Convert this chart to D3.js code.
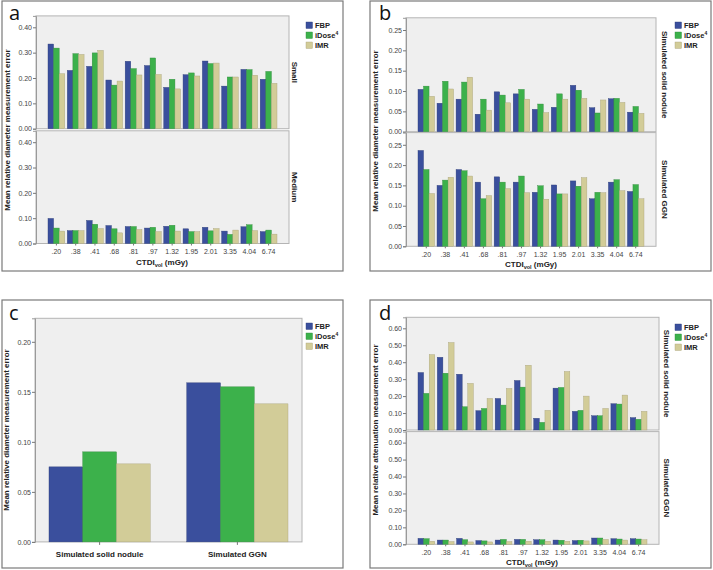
<!DOCTYPE html>
<html><head><meta charset="utf-8">
<script src="https://cdn.jsdelivr.net/npm/d3@7"></script>
<style>body{margin:0;background:#fff}svg{display:block}</style>
</head><body>
<script>
// ---------- data ----------
const categories = [".20",".38",".41",".68",".81",".97","1.32","1.95","2.01","3.35","4.04","6.74"];
const seriesNames = ["FBP","iDose","IMR"];
const seriesColors = ["#3a4f9d","#3cb14b","#d2cc98"];
const seriesStroke = ["#2c3c78","#2f8a3a","#a8a27a"];

const aSmallFBP   = [0.334,0.230,0.246,0.192,0.266,0.249,0.163,0.213,0.267,0.168,0.234,0.195];
const aSmallIDose = [0.318,0.296,0.299,0.172,0.237,0.279,0.195,0.220,0.257,0.204,0.233,0.226];
const aSmallIMR   = [0.217,0.293,0.309,0.188,0.212,0.214,0.157,0.208,0.259,0.204,0.211,0.179];
const aMedFBP     = [0.099,0.051,0.091,0.071,0.067,0.061,0.068,0.058,0.064,0.049,0.066,0.047];
const aMedIDose   = [0.061,0.051,0.076,0.058,0.067,0.064,0.072,0.047,0.050,0.036,0.074,0.053];
const aMedIMR     = [0.049,0.051,0.059,0.042,0.055,0.047,0.049,0.047,0.059,0.053,0.051,0.037];

const bSolidFBP   = [0.104,0.070,0.080,0.043,0.098,0.093,0.055,0.060,0.114,0.059,0.081,0.048];
const bSolidIDose = [0.112,0.124,0.122,0.080,0.090,0.104,0.068,0.093,0.102,0.046,0.082,0.062];
const bSolidIMR   = [0.087,0.105,0.134,0.053,0.071,0.080,0.047,0.080,0.082,0.078,0.072,0.045];
const bGgnFBP     = [0.236,0.150,0.189,0.158,0.171,0.158,0.133,0.151,0.161,0.117,0.158,0.135];
const bGgnIDose   = [0.189,0.163,0.186,0.117,0.158,0.173,0.149,0.129,0.148,0.133,0.164,0.152];
const bGgnIMR     = [0.130,0.170,0.173,0.125,0.142,0.132,0.116,0.129,0.169,0.132,0.137,0.117];

const cGroups = ["Simulated solid nodule","Simulated GGN"];
const cFBP   = [0.075,0.159];
const cIDose = [0.090,0.155];
const cIMR   = [0.078,0.138];

const dSolidFBP   = [0.339,0.429,0.329,0.114,0.186,0.292,0.069,0.247,0.110,0.084,0.155,0.073];
const dSolidIDose = [0.216,0.335,0.137,0.127,0.147,0.253,0.045,0.251,0.116,0.084,0.153,0.063];
const dSolidIMR   = [0.445,0.516,0.275,0.186,0.245,0.382,0.116,0.345,0.200,0.127,0.206,0.110];
const dGgnFBP     = [0.035,0.025,0.035,0.022,0.025,0.029,0.027,0.025,0.022,0.037,0.033,0.033];
const dGgnIDose   = [0.033,0.025,0.027,0.020,0.029,0.029,0.027,0.024,0.024,0.037,0.031,0.031];
const dGgnIMR     = [0.018,0.016,0.014,0.014,0.016,0.018,0.018,0.018,0.020,0.029,0.025,0.027];

const aTicks = [0,0.1,0.2,0.3,0.4];
const bTicks = [0,0.05,0.10,0.15,0.20,0.25];
const cTicks = [0,0.05,0.10,0.15,0.20];
const dTicks = [0,0.1,0.2,0.3,0.4,0.5,0.6];

// ---------- drawing ----------
const W = 713, H = 570;
const FONT = "'Liberation Sans', Arial, sans-serif";
const svg = d3.select("body").append("svg").attr("width", W).attr("height", H);

function box(x0, y0, x1, y1) {
  svg.append("rect").attr("x", x0).attr("y", y0).attr("width", x1 - x0).attr("height", y1 - y0)
    .attr("fill", "#fff").attr("stroke", "#7a7a7a").attr("stroke-width", 1.2);
}

function facet(o) {
  const g = svg.append("g");
  g.append("rect").attr("x", o.L).attr("y", o.top).attr("width", o.R - o.L).attr("height", o.zero - o.top)
    .attr("fill", "#efefef").attr("stroke", "#b4b4b4").attr("stroke-width", 1);
  const y = d3.scaleLinear().domain([0, o.max]).range([o.zero, o.top]);
  const x = d3.scaleBand().domain(o.cats).range([o.L + o.edge, o.R - o.edge]).paddingInner(o.pad).paddingOuter(0);
  const xs = d3.scaleBand().domain(d3.range(3)).range([0, x.bandwidth()]);
  o.series.forEach((arr, si) => {
    g.selectAll(null).data(arr).join("rect")
      .attr("x", (d, i) => x(o.cats[i]) + xs(si))
      .attr("y", d => y(d))
      .attr("width", xs.bandwidth())
      .attr("height", d => o.zero - y(d))
      .attr("fill", seriesColors[si])
      .attr("stroke", seriesStroke[si]).attr("stroke-width", 0.4);
  });
  const ax = g.append("g").attr("transform", `translate(${o.L},0)`)
    .call(d3.axisLeft(y).tickValues(o.ticks).tickFormat(d3.format(".2f")).tickSize(3).tickPadding(1));
  ax.select(".domain").attr("stroke", "#9a9a9a");
  ax.selectAll(".tick line").attr("stroke", "#777");
  ax.selectAll(".tick text").attr("font-family", FONT).attr("font-size", o.tickFont || 7).attr("fill", "#444");
  if (o.xAxis) {
    const bx = g.append("g").attr("transform", `translate(0,${o.zero})`)
      .call(d3.axisBottom(x).tickSize(o.xTickSize || 2).tickPadding(o.xPad || 4));
    bx.select(".domain").remove();
    bx.selectAll(".tick line").attr("stroke", "#777");
    bx.selectAll(".tick text").attr("font-family", FONT).attr("font-size", o.xFont || 7)
      .attr("font-weight", o.xBold ? "bold" : "normal").attr("fill", o.xBold ? "#222" : "#444");
  }
  if (o.side) {
    g.append("text").attr("transform", `translate(${o.sideX},${(o.top + o.zero) / 2}) rotate(90)`)
      .attr("text-anchor", "middle").attr("font-family", FONT).attr("font-size", 8)
      .attr("font-weight", "bold").attr("fill", "#222").text(o.side);
  }
}

function yTitle(x, yc, txt) {
  svg.append("text").attr("transform", `translate(${x},${yc}) rotate(-90)`)
    .attr("text-anchor", "middle").attr("font-family", FONT).attr("font-size", 8)
    .attr("font-weight", "bold").attr("fill", "#222").text(txt);
}
function xTitle(xc, yb) {
  const t = svg.append("text").attr("x", xc).attr("y", yb).attr("text-anchor", "middle")
    .attr("font-family", FONT).attr("font-size", 8).attr("font-weight", "bold").attr("fill", "#222");
  t.append("tspan").text("CTDI");
  t.append("tspan").attr("font-size", 5.5).attr("dy", 2).text("vol");
  t.append("tspan").attr("dy", -2).text(" (mGy)");
}
function legend(x, y) {
  seriesNames.forEach((n, i) => {
    svg.append("rect").attr("x", x).attr("y", y + i * 10).attr("width", 6.5).attr("height", 6.5)
      .attr("fill", seriesColors[i]).attr("stroke", seriesStroke[i]).attr("stroke-width", 0.4);
    const t = svg.append("text").attr("x", x + 9).attr("y", y + i * 10 + 6.3)
      .attr("font-family", FONT).attr("font-size", 7.5).attr("font-weight", "bold").attr("fill", "#222");
    t.append("tspan").text(n);
    if (n === "iDose") t.append("tspan").attr("font-size", 5).attr("dy", -3).text("4");
  });
}
function letter(x, y, l) {
  svg.append("text").attr("x", x).attr("y", y).attr("font-family", "'Open Sans', 'Noto Sans', sans-serif")
    .attr("font-size", 20).attr("fill", "#111").text(l);
}

// boxes
box(2, 1, 343, 271);
box(370, 1, 711, 271);
box(2, 300, 343, 568);
box(370, 300, 711, 568);

// panel a
facet({L: 36, R: 289, top: 15.9, zero: 128.7, max: 0.445, ticks: aTicks, cats: categories, edge: 12, pad: 0.13,
  series: [aSmallFBP, aSmallIDose, aSmallIMR], side: "Small", sideX: 292});
facet({L: 36, R: 289, top: 130.8, zero: 243.5, max: 0.445, ticks: aTicks, cats: categories, edge: 12, pad: 0.13,
  series: [aMedFBP, aMedIDose, aMedIMR], side: "Medium", sideX: 292, xAxis: true});
yTitle(10, 130, "Mean relative diameter measurement error");
xTitle(162, 265);
legend(306, 22);
letter(9, 20, "a");

// panel b
facet({L: 406, R: 656, top: 17.8, zero: 131.7, max: 0.28, ticks: bTicks, cats: categories, edge: 12, pad: 0.13,
  series: [bSolidFBP, bSolidIDose, bSolidIMR], side: "Simulated solid nodule", sideX: 662});
facet({L: 406, R: 656, top: 132.6, zero: 246.3, max: 0.28, ticks: bTicks, cats: categories, edge: 12, pad: 0.13,
  series: [bGgnFBP, bGgnIDose, bGgnIMR], side: "Simulated GGN", sideX: 662, xAxis: true});
yTitle(378, 131, "Mean relative diameter measurement error");
xTitle(531, 267);
legend(675, 22);
letter(379, 20, "b");

// panel c
facet({L: 35, R: 302, top: 318.3, zero: 541.9, max: 0.2235, ticks: cTicks, cats: cGroups, edge: 14, pad: 0.265,
  series: [cFBP, cIDose, cIMR], xAxis: true, xBold: true, xFont: 8, xPad: 6, xTickSize: 3});
yTitle(9, 430, "Mean relative diameter measurement error");
legend(306, 323);
letter(9, 320, "c");

// panel d
facet({L: 406, R: 659, top: 317.3, zero: 430, max: 0.665, ticks: dTicks, cats: categories, edge: 12, pad: 0.13,
  series: [dSolidFBP, dSolidIDose, dSolidIMR], side: "Simulated solid nodule", sideX: 664});
facet({L: 406, R: 659, top: 431.6, zero: 544.3, max: 0.665, ticks: dTicks, cats: categories, edge: 12, pad: 0.13,
  series: [dGgnFBP, dGgnIDose, dGgnIMR], side: "Simulated GGN", sideX: 664, xAxis: true});
yTitle(378, 430, "Mean relative attenuation measurement error");
xTitle(532, 565);
legend(675, 324);
letter(379, 320, "d");
</script>
</body></html>
